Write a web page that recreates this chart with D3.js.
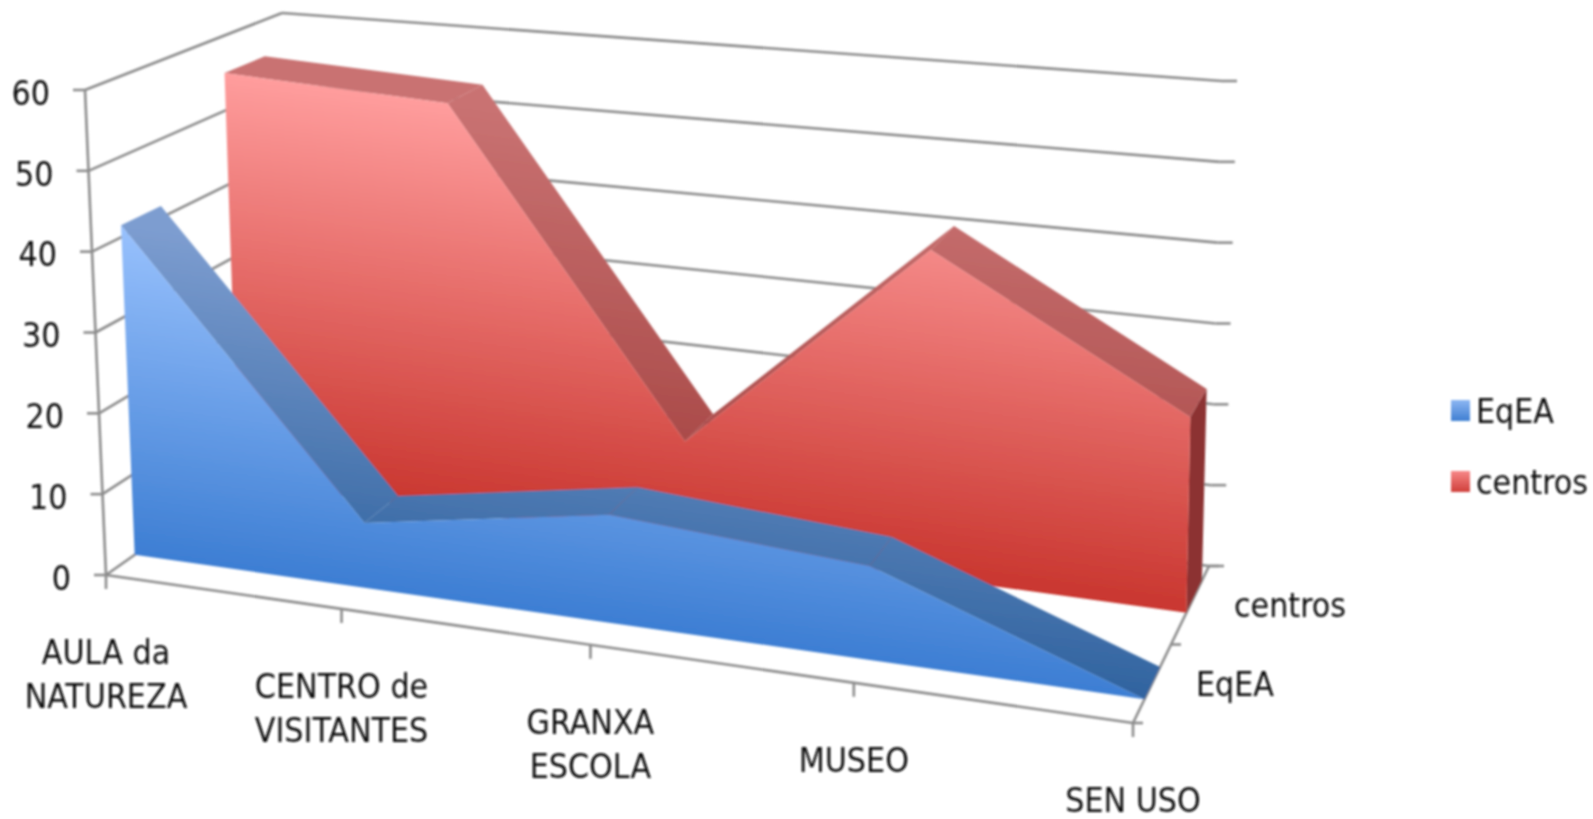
<!DOCTYPE html>
<html>
<head>
<meta charset="utf-8">
<script src="https://cdn.jsdelivr.net/npm/d3@7"></script>
<style>
  html, body { margin: 0; background: #fff; overflow: hidden; }
  text { font-family: "DejaVu Sans Condensed", "DejaVu Sans", sans-serif; font-stretch: condensed; font-size: 33.6px; fill: #111; }
</style>
</head>
<body>
<div id="chart"></div>
<script>
// data
var categories = ["AULA da NATUREZA", "CENTRO de VISITANTES", "GRANXA ESCOLA", "MUSEO", "SEN USO"];
var categoryLines = [["AULA da", "NATUREZA"], ["CENTRO de", "VISITANTES"], ["GRANXA", "ESCOLA"], ["MUSEO"], ["SEN USO"]];
var seriesNames = ["EqEA", "centros"];
var eqeaValues = [41.5, 8, 13, 11, 0];
var centrosValues = [55, 53.5, 13, 40.5, 23.5];
var valueTicks = [0, 10, 20, 30, 40, 50, 60];

var svgWidth = 1593;
var svgHeight = 819;

var svg = d3.select("#chart")
  .append("svg")
  .attr("width", svgWidth)
  .attr("height", svgHeight);

// box corners on screen, name = front/back, left/right, floor/top
var box = {
  flo: [106, 575], flt: [85, 90], blo: [295, 442], blt: [282, 13],
  fro: [1133, 723], frt: [1136, 190], bro: [1209, 566], brt: [1222, 81]
};

// scales give unit positions in the box
var xScale = d3.scalePoint().domain(categories).range([0, 1]);
var yScale = d3.scaleLinear().domain([0, 60]).range([0, 1]);
var zScale = d3.scaleBand().domain(seriesNames).range([0, 1])
  .paddingInner(0.627).paddingOuter(0.2225).align(0.62);
var zLabelScale = d3.scalePoint().domain(seriesNames).range([0, 1]).padding(0.5);

function lerp(a, b, t) {
  return [a[0] + (b[0] - a[0]) * t, a[1] + (b[1] - a[1]) * t];
}

// right side is nearer to the camera so x gets a small perspective warp
function warp(u) {
  return u / (1.12 - 0.12 * u);
}

function project(u, v, w) {
  var uu = warp(u);
  var floor = lerp(lerp(box.flo, box.fro, uu), lerp(box.blo, box.bro, uu), w);
  var top = lerp(lerp(box.flt, box.frt, uu), lerp(box.blt, box.brt, uu), w);
  return lerp(floor, top, v);
}

var line = d3.line();

function polygon(points) {
  return line(points) + "Z";
}

// gradient running across the base line of a series face
function addGradient(defs, id, start, baseA, baseB, colors) {
  var dx = baseB[0] - baseA[0], dy = baseB[1] - baseA[1];
  var t = ((start[0] - baseA[0]) * dx + (start[1] - baseA[1]) * dy) / (dx * dx + dy * dy);
  var foot = lerp(baseA, baseB, t);
  var g = defs.append("linearGradient")
    .attr("id", id)
    .attr("gradientUnits", "userSpaceOnUse")
    .attr("x1", start[0]).attr("y1", start[1])
    .attr("x2", foot[0]).attr("y2", foot[1]);
  g.append("stop").attr("offset", 0).attr("stop-color", colors[0]);
  g.append("stop").attr("offset", 1).attr("stop-color", colors[1]);
}

var defs = svg.append("defs");
defs.append("filter").attr("id", "soft")
  .attr("x", 0).attr("y", 0)
  .attr("filterUnits", "userSpaceOnUse")
  .attr("width", svgWidth).attr("height", svgHeight)
  .append("feGaussianBlur").attr("stdDeviation", 0.8);

var chartGroup = svg.append("g").attr("filter", "url(#soft)");

var gridColor = "#8c8c8c";

function drawLine(a, b) {
  chartGroup.append("line")
    .attr("x1", a[0]).attr("y1", a[1])
    .attr("x2", b[0]).attr("y2", b[1])
    .attr("stroke", gridColor)
    .attr("stroke-width", 2.6);
}

// walls
valueTicks.forEach(function(t) {
  var v = yScale(t);
  var frontLeft = project(0, v, 0);
  var backLeft = project(0, v, 1);
  var backRight = project(1, v, 1);
  drawLine(frontLeft, backLeft);
  drawLine(backLeft, backRight);
  drawLine([frontLeft[0] - 12, frontLeft[1]], frontLeft);
  drawLine(backRight, [backRight[0] + 15, backRight[1]]);
});

// floor edges and value axis
drawLine(project(0, 0, 0), project(0, 1, 0));
drawLine(project(0, 0, 0), project(1, 0, 0));
drawLine(project(1, 0, 0), project(1, 0, 1));

categories.forEach(function(c) {
  var p = project(xScale(c), 0, 0);
  drawLine(p, [p[0], p[1] + 14]);
});

[0, 0.5, 1].forEach(function(w) {
  var p = project(1, 0, w);
  drawLine(p, [p[0] + 10, p[1]]);
});

function drawSeries(name, values, colors) {
  var w0 = zScale(name);
  var w1 = w0 + zScale.bandwidth();
  var us = categories.map(function(c) { return xScale(c); });

  var top0 = values.map(function(d, i) { return project(us[i], yScale(d), w0); });
  var top1 = values.map(function(d, i) { return project(us[i], yScale(d), w1); });
  var base0 = values.map(function(d, i) { return project(us[i], 0, w0); });

  var maxIndex = d3.maxIndex(values);
  var id = "grad-" + name;
  addGradient(defs, id + "-front", top0[maxIndex], base0[0], base0[4], colors.front);
  addGradient(defs, id + "-top", top0[maxIndex], base0[0], base0[4], colors.top);

  // top strips
  d3.range(values.length - 1).forEach(function(i) {
    chartGroup.append("path")
      .attr("d", polygon([top0[i], top0[i + 1], top1[i + 1], top1[i]]))
      .attr("fill", "url(#" + id + "-top)");
  });

  // end side
  var last = values.length - 1;
  if (values[last] > 0) {
    chartGroup.append("path")
      .attr("d", polygon([top0[last], top1[last], project(1, 0, w1), base0[last]]))
      .attr("fill", colors.side);
  }

  // front face
  chartGroup.append("path")
    .attr("d", polygon(top0.concat(base0.slice().reverse())))
    .attr("fill", "url(#" + id + "-front)");
}

drawSeries("centros", centrosValues, {
  front: ["#ff9d9d", "#c9362f"],
  top: ["#c97272", "#a03e3c"],
  side: "#8c3333"
});
drawSeries("EqEA", eqeaValues, {
  front: ["#98c1fd", "#3d7ed3"],
  top: ["#7d9dd0", "#30639f"],
  side: "#30639f"
});

// labels
var labelGroup = svg.append("g").attr("filter", "url(#soft)");

valueTicks.forEach(function(t) {
  var p = project(0, yScale(t), 0);
  labelGroup.append("text")
    .attr("x", p[0] - 35)
    .attr("y", p[1] + 3)
    .attr("dy", "0.35em")
    .attr("text-anchor", "end")
    .text(t);
});

categories.forEach(function(c, i) {
  var p = project(xScale(c), 0, 0);
  categoryLines[i].forEach(function(txt, j) {
    labelGroup.append("text")
      .attr("x", p[0])
      .attr("y", p[1] + 77 + j * 44.5)
      .attr("dy", "0.35em")
      .attr("text-anchor", "middle")
      .text(txt);
  });
});

seriesNames.forEach(function(name) {
  var p = project(1, 0, zLabelScale(name));
  labelGroup.append("text")
    .attr("x", p[0] + 44)
    .attr("y", p[1])
    .attr("dy", "0.35em")
    .text(name);
});

// legend
var legendScale = d3.scalePoint().domain(seriesNames).range([411, 482]);
var legendFill = { EqEA: ["#8db6f2", "#3f7fd2"], centros: ["#f78888", "#cf3f3a"] };

seriesNames.forEach(function(name) {
  var y = legendScale(name);
  var id = "legend-" + name;
  var g = defs.append("linearGradient").attr("id", id)
    .attr("x1", 0).attr("y1", 0).attr("x2", 0).attr("y2", 1);
  g.append("stop").attr("offset", 0).attr("stop-color", legendFill[name][0]);
  g.append("stop").attr("offset", 1).attr("stop-color", legendFill[name][1]);
  labelGroup.append("rect")
    .attr("x", 1451).attr("y", y - 11)
    .attr("width", 19).attr("height", 21)
    .attr("fill", "url(#" + id + ")");
  labelGroup.append("text")
    .attr("x", 1476).attr("y", y)
    .attr("dy", "0.35em")
    .text(name);
});
</script>
</body>
</html>
